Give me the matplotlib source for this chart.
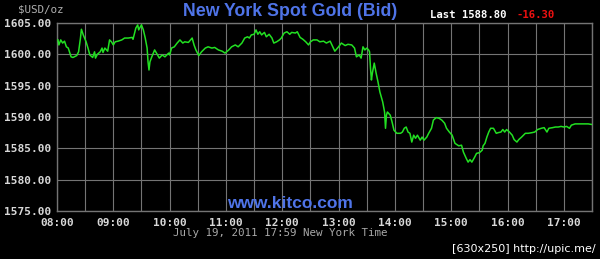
import matplotlib
matplotlib.use("Agg")
import matplotlib.pyplot as plt
import numpy as np

# minutos desde las 08:00 y precio (USD/oz)
minutos = [1, 2, 4, 6, 8, 10, 12, 15, 17, 21, 23, 25, 26, 28, 31, 33, 35, 38, 40, 41,
           43, 46, 48, 49, 51, 54, 56, 58, 60, 62, 65, 69, 72, 76, 80, 81, 84, 86, 87, 90,
           92, 94, 96, 97, 98, 99, 101, 104, 106, 109, 112, 115, 119, 120, 122, 125, 128, 131, 134, 136,
           140, 144, 146, 148, 151, 154, 158, 161, 165, 168, 172, 176, 179, 183, 186, 190, 193, 197, 200, 203,
           205, 207, 210, 212, 214, 216, 218, 221, 223, 226, 229, 231, 234, 237, 239, 242, 245, 248, 250, 254,
           256, 259, 262, 265, 268, 270, 273, 277, 280, 284, 287, 291, 296, 300, 303, 307, 310, 314, 317, 319,
           322, 324, 326, 328, 330, 332, 333, 334, 335, 336, 338, 340, 342, 344, 347, 349, 350, 351, 352, 355,
           357, 359, 362, 366, 368, 370, 372, 374, 376, 378, 380, 382, 384, 387, 389, 391, 394, 396, 399, 401,
           404, 407, 410, 413, 415, 418, 421, 424, 428, 431, 433, 436, 438, 440, 442, 445, 447, 450, 453, 454,
           456, 458, 460, 462, 465, 468, 470, 473, 475, 477, 479, 482, 485, 487, 490, 492, 495, 499, 502, 506,
           509, 512, 516, 519, 522, 524, 528, 531, 534, 537, 540, 543, 546, 548, 552, 559, 566, 570]
precio = [1602.3, 1601.5, 1602.3, 1601.8, 1602.1, 1601.2, 1601.0, 1599.6, 1599.5, 1599.8, 1600.4, 1602.6, 1604.0, 1603.1, 1602.0, 1601.0, 1599.9, 1599.5, 1600.4, 1599.4,
          1600.0, 1600.4, 1601.0, 1600.3, 1601.0, 1600.5, 1602.3, 1602.0, 1601.5, 1602.0, 1602.1, 1602.3, 1602.6, 1602.6, 1602.7, 1602.4, 1604.2, 1604.7, 1603.9, 1604.7,
          1603.9, 1602.6, 1601.0, 1598.8, 1597.5, 1598.8, 1599.6, 1600.7, 1600.2, 1599.4, 1599.9, 1599.6, 1600.2, 1599.9, 1601.0, 1601.2, 1601.8, 1602.3, 1601.8, 1602.0,
          1601.9, 1602.6, 1601.5, 1600.7, 1599.8, 1600.4, 1601.0, 1601.2, 1601.0, 1601.1, 1600.7, 1600.5, 1600.2, 1600.7, 1601.2, 1601.5, 1601.2, 1601.8, 1602.6, 1602.8,
          1602.6, 1603.1, 1603.2, 1603.9, 1603.2, 1603.6, 1603.1, 1603.5, 1602.8, 1603.2, 1602.6, 1601.8, 1602.0, 1602.3, 1602.6, 1603.4, 1603.6, 1603.2, 1603.5, 1603.4,
          1603.6, 1602.7, 1602.4, 1602.0, 1601.5, 1602.0, 1602.3, 1602.3, 1602.0, 1602.1, 1601.8, 1602.1, 1600.5, 1601.2, 1601.8, 1601.4, 1601.6, 1601.5, 1601.0, 1599.6,
          1599.9, 1599.4, 1601.2, 1600.7, 1601.0, 1600.7, 1600.4, 1597.8, 1595.9, 1597.0, 1598.6, 1597.0, 1595.6, 1594.0, 1592.4, 1590.8, 1588.2, 1590.3, 1590.8, 1590.3,
          1589.2, 1587.9, 1587.4, 1587.4, 1587.6, 1588.2, 1588.4, 1587.6, 1587.4, 1586.0, 1587.1, 1586.6, 1587.1, 1586.3, 1586.8, 1586.3, 1586.8, 1587.4, 1588.2, 1589.5,
          1589.9, 1589.8, 1589.5, 1589.0, 1588.2, 1587.6, 1587.1, 1585.8, 1585.4, 1585.5, 1584.4, 1583.4, 1582.8, 1583.2, 1582.8, 1583.6, 1584.2, 1584.3, 1584.7, 1585.4,
          1585.8, 1586.8, 1587.6, 1588.2, 1588.2, 1587.4, 1587.5, 1587.6, 1588.0, 1587.6, 1588.0, 1587.6, 1587.1, 1586.4, 1586.0, 1586.4, 1586.8, 1587.4, 1587.4, 1587.5,
          1587.6, 1588.0, 1588.2, 1588.3, 1587.6, 1588.2, 1588.3, 1588.4, 1588.4, 1588.5, 1588.4, 1588.5, 1588.2, 1588.7, 1588.9, 1588.9, 1588.9, 1588.8]

horas = ["08:00", "09:00", "10:00", "11:00", "12:00", "13:00", "14:00", "15:00", "16:00", "17:00"]
precios_eje = [1575, 1580, 1585, 1590, 1595, 1600, 1605]

gris = "#747474"
texto = "#d8d8d8"
azul = "#4f74e8"

fig = plt.figure(figsize=(6, 2.59), dpi=100, facecolor="black")
ax = fig.add_axes([57/600, 1-211/259, (592-57)/600, (211-23)/259])
ax.set_facecolor("black")

x = np.array(minutos) / 60.0
ax.plot(x, precio, color="#22e022", lw=1.1, zorder=3)

ax.set_xlim(0, 9.5)
ax.set_ylim(1575, 1605)
# rejilla cada media hora, etiqueta solo en la hora
ax.set_xticks(np.arange(0, 10, 1.0))
ax.set_xticklabels(horas)
ax.set_xticks(np.arange(0.5, 9.6, 1.0), minor=True)
ax.set_yticks(precios_eje)
ax.set_yticklabels(["%.2f" % p for p in precios_eje])
ax.grid(True, which="both", color=gris, lw=0.8)
ax.tick_params(which="both", length=0, colors=texto)
ax.tick_params(axis="x", pad=5)
ax.tick_params(axis="y", pad=4)
for lab in ax.get_xticklabels() + ax.get_yticklabels():
    lab.set_family("DejaVu Sans Mono")
    lab.set_fontsize(8)
    lab.set_weight("bold")
    lab.set_color(texto)
for s in ax.spines.values():
    s.set_color(gris)
    s.set_linewidth(1.0)

fig.text(290/600, 1-12/259, "New York Spot Gold (Bid)", color=azul, fontsize=12.8,
         fontweight="bold", family="Liberation Sans", ha="center", va="center")
fig.text(41/600, 1-10/259, "$USD/oz", color="#b0b0b0", fontsize=7.8,
         family="DejaVu Sans Mono", ha="center", va="center")
fig.text(430/600, 1-15/259, "Last 1588.80", color="white", fontsize=7.7,
         fontweight="bold", family="DejaVu Sans Mono", ha="left", va="center")
fig.text(517/600, 1-15/259, "-16.30", color="#ee1111", fontsize=7.7,
         fontweight="bold", family="DejaVu Sans Mono", ha="left", va="center")
fig.text(290/600, 1-203/259, "www.kitco.com", color=azul, fontsize=12.5,
         fontweight="bold", family="Liberation Sans", ha="center", va="center")
fig.text(280/600, 1-233/259, "July 19, 2011 17:59 New York Time", color="#a8a8a8",
         fontsize=7.8, family="DejaVu Sans Mono", ha="center", va="center")
fig.text(596/600, 1-249/259, "[630x250] http://upic.me/", color="white",
         fontsize=8, family="DejaVu Sans", ha="right", va="center")

fig.savefig("out.png", dpi=100, facecolor="black")
